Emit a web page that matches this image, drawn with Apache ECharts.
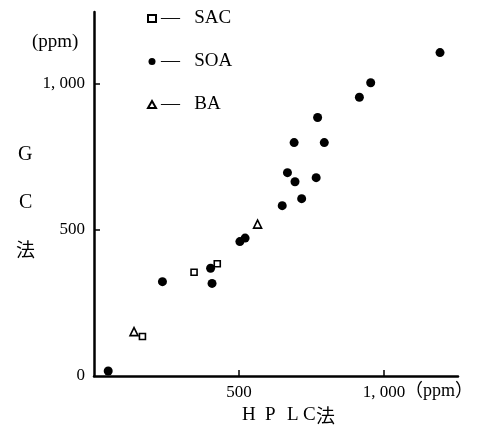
<!DOCTYPE html>
<html>
<head>
<meta charset="utf-8">
<script src="https://cdn.jsdelivr.net/npm/echarts@6/dist/echarts.min.js"></script>
<style>
  html, body { margin: 0; padding: 0; background: #fff; }
  #chart { width: 482px; height: 432px; }
</style>
</head>
<body>
<div id="chart"></div>
<script>
// HPLC法 (x) vs GC法 (y), ppm
const sacData = [[425, 384], [345, 355], [167, 135]]
const soaData = [
  [1193, 1107], [954, 1004], [915, 954], [771, 885], [690, 799], [794, 799],
  [667, 696], [693, 665], [766, 679], [716, 607], [649, 583], [521, 472],
  [503, 460], [402, 369], [236, 323], [407, 317], [49, 17],
]
const baData = [[564, 520], [138, 152]]
const xTicks = [500, 1000]
const yTicks = [0, 500, 1000]

const fmt = (v) => (v === 1000 ? '1, 000' : String(v))
const font = '"Liberation Serif", "Noto Sans CJK JP", serif'
const cjk = '"Noto Sans CJK JP", "Noto Sans CJK SC", sans-serif'

const chart = echarts.init(document.getElementById('chart'))
chart.setOption({
  animation: false,
  backgroundColor: '#fff',
  grid: { left: 94, right: 24, top: 12, bottom: 56 },
  legend: {
    orient: 'vertical',
    left: 142,
    top: 4,
    itemGap: 24,
    itemWidth: 8,
    itemHeight: 7,
    textStyle: { color: '#000', fontSize: 19, fontFamily: font },
    formatter: (name) => '—   ' + name,
    data: ['SAC', 'SOA', 'BA'],
  },
  xAxis: {
    type: 'value',
    min: 0,
    max: 1255,
    splitLine: { show: false },
    axisLine: { lineStyle: { color: '#000', width: 2.5 } },
    axisTick: { inside: true, length: 6, customValues: xTicks, lineStyle: { color: '#000', width: 1.5 } },
    axisLabel: { customValues: xTicks, formatter: fmt, color: '#000', fontSize: 17, fontFamily: font, margin: 8 },
  },
  yAxis: {
    type: 'value',
    min: 0,
    max: 1246,
    splitLine: { show: false },
    axisLine: { lineStyle: { color: '#000', width: 2.5 } },
    axisTick: { inside: true, length: 6, customValues: [500, 1000], lineStyle: { color: '#000', width: 1.5 } },
    axisLabel: { customValues: yTicks, formatter: fmt, color: '#000', fontSize: 17, fontFamily: font, margin: 9 },
  },
  graphic: [
    { type: 'text', left: 32, top: 33, style: { text: '(ppm)', font: '19px ' + font, fill: '#000' } },
    { type: 'text', left: 405, top: 382, style: { text: '（ppm）', font: '18px ' + font, fill: '#000' } },
    { type: 'text', left: 18, top: 145, style: { text: 'G', font: '20px ' + font, fill: '#000' } },
    { type: 'text', left: 19, top: 193, style: { text: 'C', font: '20px ' + font, fill: '#000' } },
    { type: 'text', left: 16, top: 240, style: { text: '法', font: '19px ' + cjk, fill: '#000' } },
    { type: 'text', left: 242, top: 406, style: { text: 'H', font: '19px ' + font, fill: '#000' } },
    { type: 'text', left: 265, top: 406, style: { text: 'P', font: '19px ' + font, fill: '#000' } },
    { type: 'text', left: 287, top: 406, style: { text: 'L', font: '19px ' + font, fill: '#000' } },
    { type: 'text', left: 303, top: 406, style: { text: 'C', font: '19px ' + font, fill: '#000' } },
    { type: 'text', left: 316, top: 406, style: { text: '法', font: '19px ' + cjk, fill: '#000' } },
  ],
  series: [
    {
      name: 'SAC',
      type: 'scatter',
      data: sacData,
      symbol: 'rect',
      symbolSize: 6,
      itemStyle: { color: '#fff', borderColor: '#000', borderWidth: 1.6, opacity: 1 },
    },
    {
      name: 'SOA',
      type: 'scatter',
      data: soaData,
      symbol: 'circle',
      symbolSize: 9,
      itemStyle: { color: '#000', opacity: 1 },
    },
    {
      name: 'BA',
      type: 'scatter',
      data: baData,
      symbol: 'triangle',
      symbolSize: 8,
      itemStyle: { color: '#fff', borderColor: '#000', borderWidth: 1.6, opacity: 1 },
    },
  ],
})
</script>
</body>
</html>
